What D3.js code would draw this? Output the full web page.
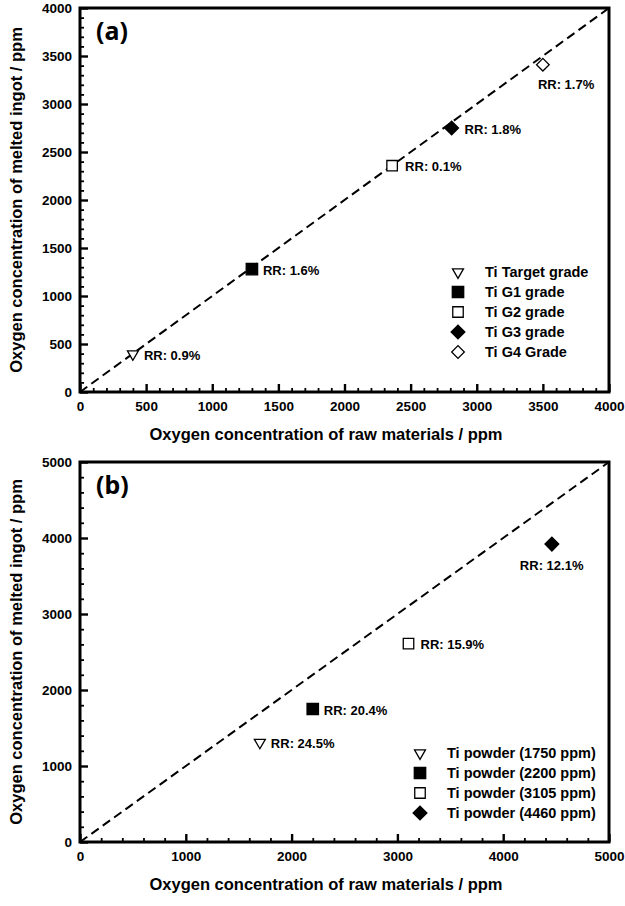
<!DOCTYPE html>
<html>
<head>
<meta charset="utf-8">
<script src="https://cdn.jsdelivr.net/npm/d3@7"></script>
<style>
  body { margin: 0; background: #fff; }
  svg { display: block; font-family: "Liberation Sans", Arial, sans-serif; }
</style>
</head>
<body>
<div id="chart"></div>
<script>
// panel (a) data
const namesA = ["Ti Target grade", "Ti G1 grade", "Ti G2 grade", "Ti G3 grade", "Ti G4 Grade"];
const symbolsA = ["triDown", "squareFill", "squareOpen", "diamondFill", "diamondOpen"];
const rawA = [400, 1300, 2360, 2810, 3500];
const ingotA = [396, 1280, 2357, 2750, 3410];
const rrA = ["RR: 0.9%", "RR: 1.6%", "RR: 0.1%", "RR: 1.8%", "RR: 1.7%"];
const ticksA = [0, 500, 1000, 1500, 2000, 2500, 3000, 3500, 4000];

// panel (b) data
const namesB = ["Ti powder (1750 ppm)", "Ti powder (2200 ppm)", "Ti powder (3105 ppm)", "Ti powder (4460 ppm)"];
const symbolsB = ["triDown", "squareFill", "squareOpen", "diamondFill"];
const rawB = [1700, 2200, 3105, 4460];
const ingotB = [1310, 1750, 2611, 3920];
const rrB = ["RR: 24.5%", "RR: 20.4%", "RR: 15.9%", "RR: 12.1%"];
const ticksB = [0, 1000, 2000, 3000, 4000, 5000];

// label placement (offset from marker centre)
const labelPosA = [[11, 1], [11, 1], [13, 1], [13, 1], [-5, 20]];
const labelPosB = [[11, 1], [11, 1], [12, 1], [-32, 21]];

const width = 625, height = 906;
const svg = d3.select("#chart").append("svg")
  .attr("width", width).attr("height", height);

function marker(g, type) {
  if (type === "triDown") {
    g.append("path")
      .attr("d", d3.symbol(d3.symbolTriangle, 52)())
      .attr("transform", "rotate(180)")
      .attr("fill", "#fff").attr("stroke", "#000").attr("stroke-width", 1.3);
  } else if (type.startsWith("square")) {
    const fill = type === "squareFill";
    g.append("path")
      .attr("d", d3.symbol(d3.symbolSquare, fill ? 130 : 110)())
      .attr("fill", fill ? "#000" : "#fff").attr("stroke", "#000").attr("stroke-width", 1.3);
  } else {
    const fill = type === "diamondFill";
    g.append("path")
      .attr("d", d3.symbol(d3.symbolSquare, fill ? 95 : 80)())
      .attr("transform", "rotate(45)")
      .attr("fill", fill ? "#000" : "#fff").attr("stroke", "#000").attr("stroke-width", 1.3);
  }
}

function drawPanel(p) {
  const x = d3.scaleLinear().domain([0, p.max]).range([80, 609]);
  const y = d3.scaleLinear().domain([0, p.max]).range([p.bottom, p.top]);
  const g = svg.append("g");

  // minor ticks
  const minor = d3.range(0, p.max + 1, p.minor).filter(v => !p.ticks.includes(v));
  g.append("g").attr("transform", `translate(0,${p.bottom})`)
    .call(d3.axisBottom(x).tickValues(minor).tickSize(-4).tickFormat(""))
    .call(a => a.select(".domain").remove())
    .selectAll("line").attr("stroke-width", 1.8);
  g.append("g").attr("transform", "translate(80,0)")
    .call(d3.axisLeft(y).tickValues(minor).tickSize(-4).tickFormat(""))
    .call(a => a.select(".domain").remove())
    .selectAll("line").attr("stroke-width", 1.8);

  // major ticks
  const fmt = d3.format("d");
  const xa = g.append("g").attr("transform", `translate(0,${p.bottom})`)
    .call(d3.axisBottom(x).tickValues(p.ticks).tickFormat(fmt).tickSize(-8).tickPadding(9))
    .call(a => a.select(".domain").remove());
  const ya = g.append("g").attr("transform", "translate(80,0)")
    .call(d3.axisLeft(y).tickValues(p.ticks).tickFormat(fmt).tickSize(-8).tickPadding(8))
    .call(a => a.select(".domain").remove());
  [xa, ya].forEach(a => {
    a.attr("font-family", null);
    a.selectAll("line").attr("stroke-width", 2.4);
    a.selectAll("text")
      .attr("font-size", 13.5).attr("font-weight", "bold").attr("fill", "#000");
  });

  // frame
  g.append("rect")
    .attr("x", x(0)).attr("y", y(p.max))
    .attr("width", x(p.max) - x(0)).attr("height", y(0) - y(p.max))
    .attr("fill", "none").attr("stroke", "#000").attr("stroke-width", 3);

  // 1:1 line
  g.append("line")
    .attr("x1", x(0)).attr("y1", y(0)).attr("x2", x(p.max)).attr("y2", y(p.max))
    .attr("stroke", "#000").attr("stroke-width", 2).attr("stroke-dasharray", "9,5");

  // points
  p.raw.forEach((v, i) => {
    const m = g.append("g").attr("transform", `translate(${x(v)},${y(p.ingot[i])})`);
    marker(m, p.symbols[i]);
    m.append("text")
      .attr("x", p.labelPos[i][0]).attr("y", p.labelPos[i][1])
      .attr("dy", "0.36em")
      .attr("font-size", 13).attr("font-weight", "bold")
      .text(p.rr[i]);
  });

  // legend
  p.names.forEach((n, i) => {
    const ly = p.legendY + i * 20;
    const m = g.append("g").attr("transform", `translate(${p.legendX},${ly})`);
    marker(m, p.symbols[i]);
    g.append("text")
      .attr("x", p.legendX + 27).attr("y", ly).attr("dy", "0.36em")
      .attr("font-size", 14.5).attr("font-weight", "bold")
      .text(n);
  });

  // panel tag
  g.append("text")
    .attr("x", 96).attr("y", p.top + 32)
    .attr("font-family", "Noto Sans, Open Sans, sans-serif")
    .attr("font-size", 25).attr("font-weight", "bold")
    .text(p.tag);

  // axis titles
  g.append("text")
    .attr("x", 326).attr("y", p.bottom + 48)
    .attr("text-anchor", "middle")
    .attr("font-size", 16.5).attr("font-weight", "bold")
    .text("Oxygen concentration of raw materials / ppm");
  g.append("text")
    .attr("transform", `translate(22,${(p.top + p.bottom) / 2}) rotate(-90)`)
    .attr("text-anchor", "middle")
    .attr("font-size", 16.5).attr("font-weight", "bold")
    .text("Oxygen concentration of melted ingot / ppm");
}

drawPanel({
  tag: "(a)", max: 4000, minor: 100, ticks: ticksA, top: 8, bottom: 392,
  raw: rawA, ingot: ingotA, rr: rrA, names: namesA, symbols: symbolsA,
  labelPos: labelPosA, legendX: 458, legendY: 272
});
drawPanel({
  tag: "(b)", max: 5000, minor: 200, ticks: ticksB, top: 462, bottom: 842,
  raw: rawB, ingot: ingotB, rr: rrB, names: namesB, symbols: symbolsB,
  labelPos: labelPosB, legendX: 420, legendY: 753
});
</script>
</body>
</html>
